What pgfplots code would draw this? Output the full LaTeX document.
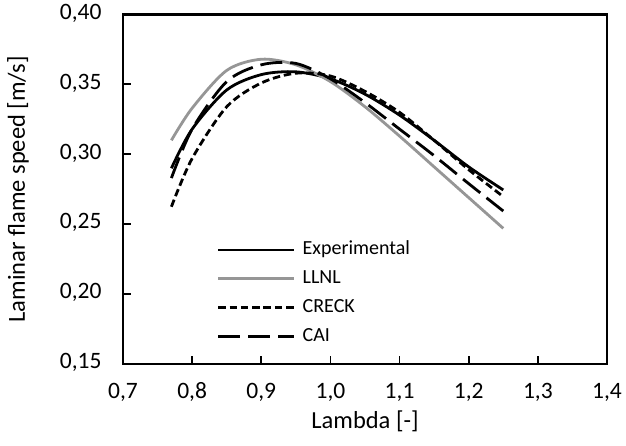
\documentclass[border=0pt]{standalone}
\usepackage{fontspec}
\setmainfont{Carlito}
\usepackage{pgfplots}
\pgfplotsset{compat=1.18}
\definecolor{llnlgray}{RGB}{150,150,150}
\begin{document}
\begin{tikzpicture}
\useasboundingbox (-123pt,-82pt) rectangle (503pt,364pt);
\begin{axis}[
  at={(0pt,0pt)}, anchor=south west,
  scale only axis, width=484pt, height=349.5pt,
  xmin=0.7, xmax=1.4, ymin=0.15, ymax=0.40,
  xtick={0.7,0.8,0.9,1.0,1.1,1.2,1.3,1.4},
  xticklabels={{0,7},{0,8},{0,9},{1,0},{1,1},{1,2},{1,3},{1,4}},
  ytick={0.15,0.20,0.25,0.30,0.35,0.40},
  yticklabels={{0,15},{0,20},{0,25},{0,30},{0,35},{0,40}},
  ticklabel style={font=\fontsize{23.5}{24}\selectfont},
  xticklabel style={anchor=center, text height=15pt, text depth=0pt, yshift=-35pt+7.5pt},
  yticklabel style={anchor=east, xshift=-18pt},
  typeset ticklabels with strut=false,
  tick align=inside, tick pos=left,
  major tick length=8pt,
  tick style={line width=1.8pt, black},
  axis line style={line width=2.8pt},
  xlabel={Lambda [-]}, ylabel={Laminar flame speed [m/s]},
  every axis x label/.style={at={(axis description cs:0.5,0)}, anchor=center, yshift=-57.7pt, font=\fontsize{24.5}{25}\selectfont},
  every axis y label/.style={at={(axis description cs:0,0.5)}, xshift=-105pt, anchor=center, rotate=90, font=\fontsize{24.5}{25}\selectfont},
  legend image code/.code={\draw[#1, line width=2.8pt] (0pt,0pt) -- (76pt,0pt);},
  legend cell align=left,
  legend style={draw=none, fill=none, inner sep=0pt, outer sep=0pt,
    at={(0.194,0.352)}, anchor=north west,
    font=\fontsize{20}{20}\selectfont,
    nodes={inner sep=0pt, text height=14pt, text depth=4pt},
    row sep=10pt+0.8pt,
    /tikz/every odd column/.append style={column sep=7pt}},
]
\addplot[black, line width=2.8pt, smooth] coordinates {
(0.77,0.290) (0.80,0.318) (0.85,0.346) (0.90,0.357) (0.95,0.359) (1.00,0.354) (1.05,0.343) (1.10,0.328) (1.15,0.310) (1.20,0.291) (1.25,0.2745)};
\addlegendentry{Experimental}
\addplot[llnlgray, line width=2.8pt, smooth] coordinates {
(0.77,0.310) (0.80,0.333) (0.85,0.360) (0.90,0.368) (0.95,0.364) (1.00,0.352) (1.05,0.334) (1.10,0.313) (1.15,0.291) (1.20,0.269) (1.25,0.247)};
\addlegendentry{LLNL}
\addplot[black, line width=2.8pt, smooth, dash pattern=on 7.5pt off 3.8pt] coordinates {
(0.77,0.2625) (0.80,0.297) (0.85,0.334) (0.90,0.351) (0.95,0.358) (1.00,0.356) (1.05,0.345) (1.10,0.330) (1.15,0.310) (1.20,0.289) (1.25,0.2697)};
\addlegendentry{CRECK}
\addplot[black, line width=2.8pt, smooth, dash pattern=on 22pt off 8pt] coordinates {
(0.77,0.283) (0.80,0.318) (0.85,0.352) (0.90,0.364) (0.95,0.365) (1.00,0.354) (1.05,0.337) (1.10,0.318) (1.15,0.299) (1.20,0.279) (1.25,0.2594)};
\addlegendentry{CAI}
\end{axis}
\end{tikzpicture}
\end{document}
